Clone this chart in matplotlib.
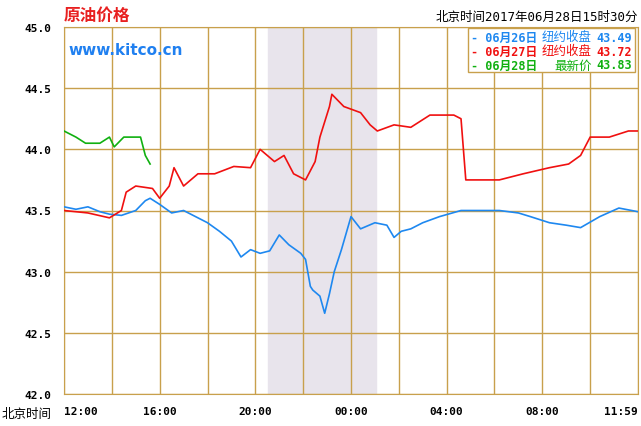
import matplotlib
matplotlib.use("Agg")
import matplotlib.pyplot as plt

plt.rcParams['font.family'] = ['DejaVu Sans Mono', 'Noto Sans CJK SC']

# hours after 12:00 Beijing time
blue_h = [0, 0.5, 1.0, 1.5, 1.9, 2.4, 3.0, 3.4, 3.6, 4.0, 4.5, 5.0, 5.5, 6.0, 6.5, 7.0, 7.4, 7.8, 8.2,
          8.6, 9.0, 9.4, 9.9, 10.1, 10.3, 10.4, 10.7, 10.9, 11.1, 11.3, 11.6, 12.0, 12.4, 13.0,
          13.5, 13.8, 14.1, 14.5, 15.0, 15.7, 16.6, 17.5, 18.2, 19.0, 19.5, 20.3, 21.0, 21.6,
          22.4, 23.2, 24.0]
blue_v = [43.53, 43.51, 43.53, 43.49, 43.47, 43.46, 43.50, 43.58, 43.60, 43.55, 43.48, 43.50,
          43.45, 43.40, 43.33, 43.25, 43.12, 43.18, 43.15, 43.17, 43.30, 43.22, 43.15, 43.10,
          42.88, 42.85, 42.80, 42.66, 42.82, 43.00, 43.18, 43.45, 43.35, 43.40, 43.38, 43.28,
          43.33, 43.35, 43.40, 43.45, 43.50, 43.50, 43.50, 43.48, 43.45, 43.40, 43.38, 43.36,
          43.45, 43.52, 43.49]
red_h = [0, 1.0, 1.9, 2.4, 2.6, 3.0, 3.7, 4.0, 4.4, 4.6, 5.0, 5.6, 6.3, 7.1, 7.8, 8.2, 8.8,
         9.2, 9.6, 10.1, 10.5, 10.7, 11.1, 11.2, 11.7, 12.4, 12.8, 13.1, 13.8, 14.5, 15.3, 16.3,
         16.6, 16.8, 18.2, 19.2, 20.3, 21.1, 21.6, 22.0, 22.8, 23.6, 24.0]
red_v = [43.50, 43.48, 43.44, 43.50, 43.65, 43.70, 43.68, 43.60, 43.70, 43.85, 43.70, 43.80,
         43.80, 43.86, 43.85, 44.00, 43.90, 43.95, 43.80, 43.75, 43.90, 44.10, 44.35, 44.45,
         44.35, 44.30, 44.20, 44.15, 44.20, 44.18, 44.28, 44.28, 44.25, 43.75, 43.75, 43.80,
         43.85, 43.88, 43.95, 44.10, 44.10, 44.15, 44.15]
green_h = [0, 0.5, 0.9, 1.5, 1.9, 2.1, 2.5, 3.2, 3.4, 3.6]
green_v = [44.15, 44.10, 44.05, 44.05, 44.10, 44.02, 44.10, 44.10, 43.95, 43.88]

y_ticks = [42.0, 42.5, 43.0, 43.5, 44.0, 44.5, 45.0]
x_ticks = [0, 4, 8, 12, 16, 20, 24]
x_labels = ["12:00", "16:00", "20:00", "00:00", "04:00", "08:00", "11:59"]

grid_c = "#C8A04C"
fig = plt.figure(figsize=(6.41, 4.27), dpi=100)
ax = fig.add_axes([64 / 641, 32 / 427, 574 / 641, 367 / 427])
ax.set_xlim(0, 24)
ax.set_ylim(42.0, 45.0)
ax.axvspan(8.55, 13.05, color="#E8E4EC", zorder=0)
for h in range(0, 25, 2):
    ax.axvline(h, color=grid_c, lw=1, zorder=1)
for v in y_ticks:
    ax.axhline(v, color=grid_c, lw=1, zorder=1)
for s in ax.spines.values():
    s.set_color(grid_c)

ax.plot(blue_h, blue_v, color="#1E88F0", lw=1.2, zorder=3)
ax.plot(red_h, red_v, color="#F01010", lw=1.2, zorder=3)
ax.plot(green_h, green_v, color="#10B010", lw=1.2, zorder=3)

ax.set_yticks(y_ticks)
ax.set_yticklabels([f"{v:.1f}" for v in y_ticks], fontsize=8, fontweight="bold")
ax.set_xticks(x_ticks)
ax.set_xticklabels(x_labels, fontsize=8, fontweight="bold")
ax.tick_params(length=0, pad=9)
xl = ax.get_xticklabels()
xl[0].set_horizontalalignment("left")
xl[-1].set_horizontalalignment("right")

fig.text(2 / 641, 9 / 427, "北京时间", fontsize=9)
fig.text(64 / 641, 406 / 427, "原油价格", fontsize=12, color="#E82020", fontweight="bold")
fig.text(68 / 641, 372 / 427, "www.kitco.cn", fontsize=11, color="#2080F0", fontweight="bold",
         family="DejaVu Sans")
fig.text(638 / 641, 406 / 427, "北京时间2017年06月28日15时30分", fontsize=9, ha="right")

ax.add_patch(plt.Rectangle((468 / 641, 354 / 427), 167 / 641, 44 / 427, transform=fig.transFigure,
                           facecolor="white", edgecolor=grid_c, lw=1, zorder=5))
rows = [("06月26日", "纽约收盘", "43.49", "#1E88F0"),
        ("06月27日", "纽约收盘", "43.72", "#F01010"),
        ("06月28日", "最新价", "43.83", "#10B010")]
for i, (d, lbl, val, c) in enumerate(rows):
    yy = (389 - i * 14) / 427
    fig.text(471 / 641, yy, "- " + d, color=c, fontsize=8.5, fontweight="bold", va="center", zorder=6)
    fig.text(592 / 641, yy, lbl, color=c, fontsize=9, va="center", ha="right", zorder=6)
    fig.text(632 / 641, yy, val, color=c, fontsize=8.5, fontweight="bold", va="center", ha="right", zorder=6)

fig.savefig("out.png", dpi=100)
